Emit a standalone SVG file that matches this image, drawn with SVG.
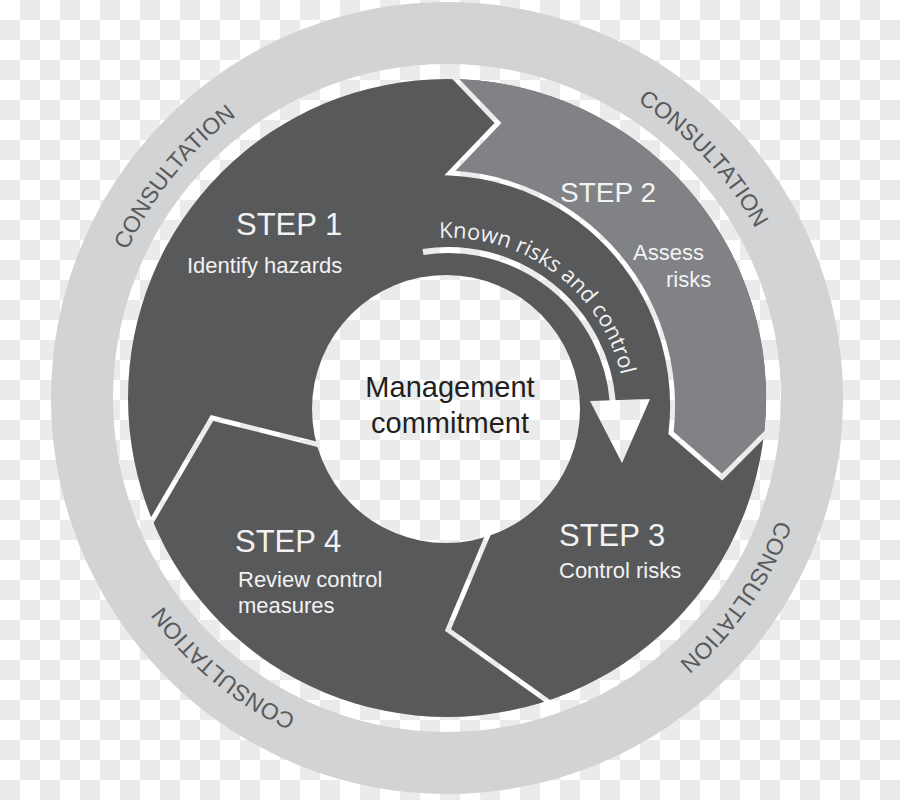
<svg xmlns="http://www.w3.org/2000/svg" width="900" height="800" viewBox="0 0 900 800">
<defs>
<pattern id="chk" width="40" height="40" patternUnits="userSpaceOnUse">
<rect width="40" height="40" fill="#ffffff"/>
<rect x="20" y="0" width="20" height="20" fill="#ebebeb"/>
<rect x="0" y="20" width="20" height="20" fill="#ebebeb"/>
</pattern>
<path id="c1" d="M 118.4 524.2 A 352 352 0 0 1 502.1 50.3"/>
<path id="c2" d="M 367.8 55.0 A 352 352 0 0 1 783.6 500.9"/>
<path id="c3" d="M 764.7 246.5 A 352 352 0 0 1 419.4 748.9"/>
<path id="c4" d="M 569.7 727.9 A 352 352 0 0 1 99.9 339.3"/>
<path id="krc" d="M 439.3 238.2 A 177 177 0 0 1 625.6 415"/>
</defs>
<style>
.ring{fill:none;stroke:#d1d3d4;stroke-width:62}
.cons{font-family:"Liberation Sans",Arial,sans-serif;font-size:23px;fill:#58595b}
.sep{fill:none;stroke:url(#chk);stroke-width:5;stroke-linejoin:miter}
.step{font-family:"Liberation Sans",Arial,sans-serif;font-size:31px;fill:#f2f2f2}
.sub{font-family:"Liberation Sans",Arial,sans-serif;font-size:22px;fill:#f2f2f2}
.mgmt{font-family:"Liberation Sans",Arial,sans-serif;font-size:29px;fill:#231f20;text-anchor:middle}
.krc{font-family:"Open Sans",sans-serif;font-size:22px;fill:#f2f2f2}
</style>
<rect width="900" height="800" fill="url(#chk)"/>
<g id="consultation-ring">
<circle class="ring" cx="447" cy="398" r="365"/>
<text class="cons"><textPath href="#c1" startOffset="50%" text-anchor="middle">CONSULTATION</textPath></text>
<text class="cons"><textPath href="#c2" startOffset="50%" text-anchor="middle">CONSULTATION</textPath></text>
<text class="cons"><textPath href="#c3" startOffset="50%" text-anchor="middle">CONSULTATION</textPath></text>
<text class="cons"><textPath href="#c4" startOffset="50%" text-anchor="middle">CONSULTATION</textPath></text>
</g>
<g id="cycle-base">
<circle cx="447" cy="398" r="319" fill="#58595b"/>
</g>
<g id="step2">
<path d="M 453 79 A 319 319 0 0 1 764 435 L 722 477 L 671 433 A 233 233 0 0 0 450 173 L 498 123 Z" fill="#808285"/>
<text class="step" x="560" y="202" style="font-size:28px">STEP 2</text>
<text class="sub" x="633" y="260">Assess</text>
<text class="sub" x="666" y="287">risks</text>
</g>
<g id="connectors">
<path class="sep" d="M 768 431 L 722 477 L 671 433 A 233 233 0 0 0 450 173 L 498 123 L 452 75"/>
<path class="sep" d="M 150 524 L 212 418 L 320 445"/>
<path class="sep" d="M 490 530 L 448 630 L 553 705"/>
<path d="M 423 252 A 165 165 0 0 1 612.8 402" fill="none" stroke="url(#chk)" stroke-width="6"/>
<polygon points="590,401 650,399 622,463" fill="url(#chk)"/>
<text class="krc"><textPath href="#krc">Known risks and control</textPath></text>
</g>
<g id="step1">
<text class="step" x="236" y="235">STEP 1</text>
<text class="sub" x="187" y="273">Identify hazards</text>
</g>
<g id="step3">
<text class="step" x="559" y="546">STEP 3</text>
<text class="sub" x="559" y="578">Control risks</text>
</g>
<g id="step4">
<text class="step" x="235" y="552">STEP 4</text>
<text class="sub" x="238" y="587">Review control</text>
<text class="sub" x="238" y="613">measures</text>
</g>
<g id="management-commitment">
<circle cx="446" cy="409" r="134" fill="url(#chk)"/>
<text class="mgmt" x="450" y="397">Management</text>
<text class="mgmt" x="450" y="433">commitment</text>
</g>
</svg>
